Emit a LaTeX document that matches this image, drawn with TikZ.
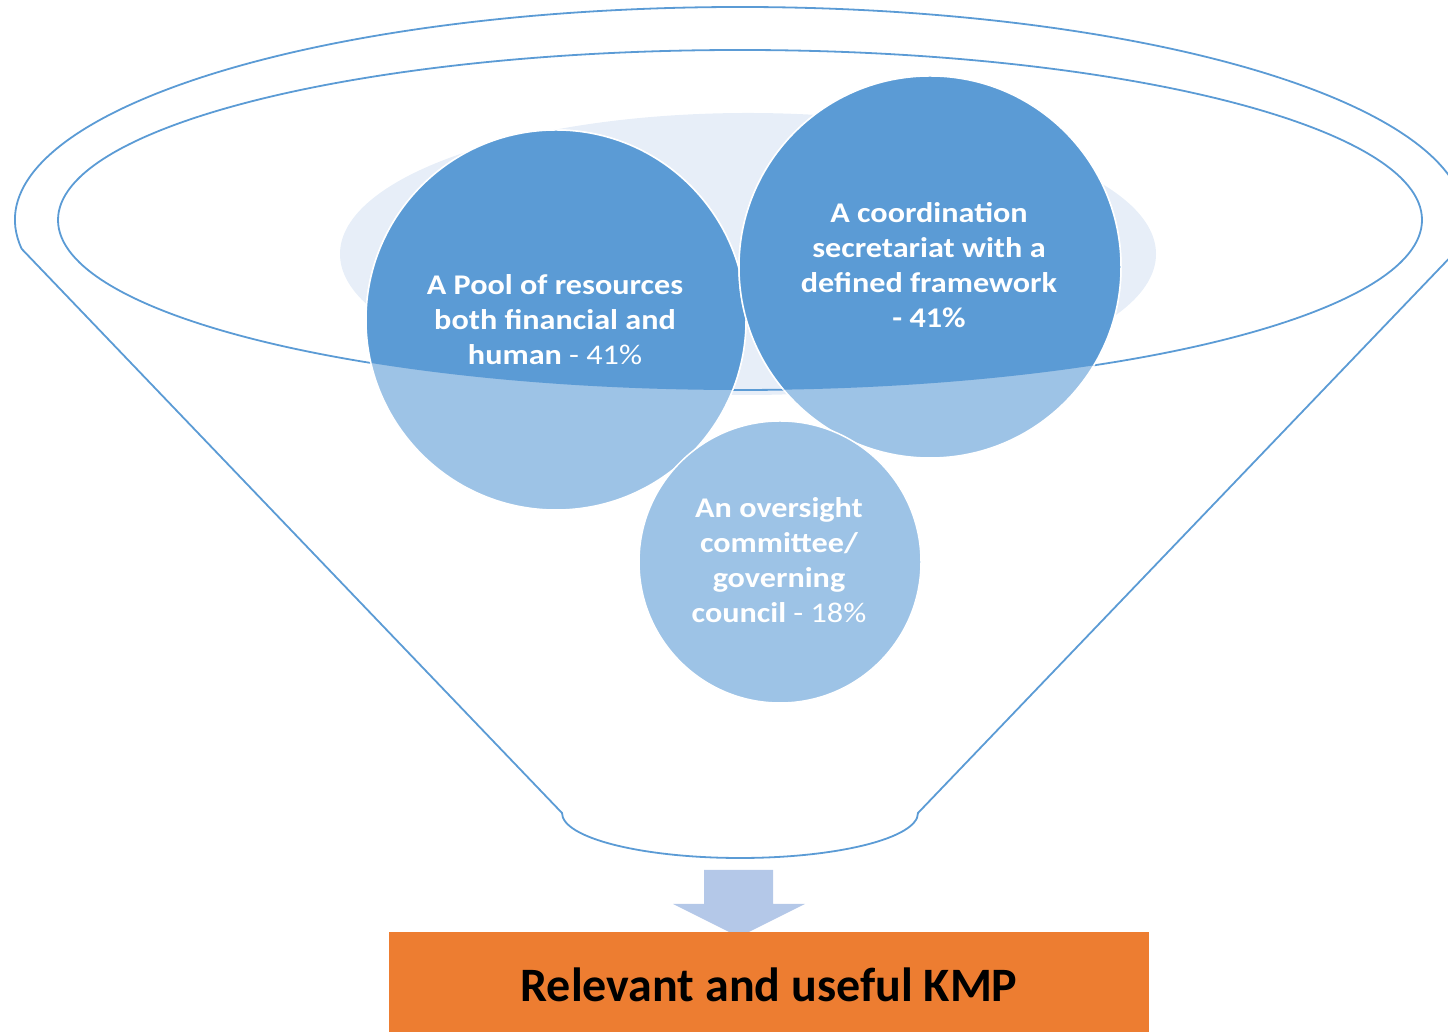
\documentclass[tikz,border=0pt]{standalone}
\usepackage{fontspec}
\setmainfont{Carlito}
\newfontfamily\widefont[FakeStretch=1.13]{Carlito}
\definecolor{lineblue}{HTML}{5B9BD5}
\definecolor{darkblue}{HTML}{5B9BD5}
\definecolor{lightblue}{HTML}{9DC3E6}
\definecolor{bgblue}{HTML}{E7EEF8}
\definecolor{arrowblue}{HTML}{B4C8E8}
\definecolor{orangebox}{HTML}{ED7D31}
\tikzset{
  funnel/.style={draw=lineblue, line width=1.8pt},
  bubble/.style={circle, fill=lightblue, draw=white, line width=1.5pt, inner sep=0pt},
  bubbletext/.style={text=white, align=center, font=\widefont\bfseries\fontsize{28.5}{35}\selectfont},
  rim/.style={draw=white, line width=1.5pt},
}
\begin{document}
\begin{tikzpicture}[x=1pt,y=1pt]
\useasboundingbox (0,0) rectangle (1448,1032);
\clip (0,0) rectangle (1448,1032);
% background ellipse
\fill[bgblue] (748,778) ellipse [x radius=408pt, y radius=141pt];
% funnel outline
\draw[funnel] (21.7,783.1) arc[start angle=187.8, end angle=-7.8, x radius=725pt, y radius=213pt]
  -- (918,219) arc[start angle=0, end angle=-180, x radius=178pt, y radius=45pt] -- cycle;
\draw[funnel] (740,812) ellipse [x radius=682pt, y radius=170pt];
% circle 1
\node[bubble, minimum size=380pt] (c1) at (556,712) {};
\begin{scope}
  \clip (740,812) ellipse [x radius=682pt, y radius=170pt];
  \fill[darkblue] (c1.center) circle [radius=190pt];
  \draw[rim] (c1.center) circle [radius=190pt];
\end{scope}
% circle 2
\node[bubble, minimum size=382pt] (c2) at (930,765) {};
\begin{scope}
  \clip (740,812) ellipse [x radius=682pt, y radius=170pt];
  \fill[darkblue] (c2.center) circle [radius=191pt];
  \draw[rim] (c2.center) circle [radius=191pt];
\end{scope}
% circle 3
\node[bubble, minimum size=282pt] (c3) at (780,470) {};
% texts
\node[bubbletext] (t1) at (555,712) {A Pool of resources\\both financial and\\human {\mdseries - 41\%}};
\node[bubbletext] (t2) at (929,767) {A coordination\\secretariat with a\\defined framework\\- 41\%};
\node[bubbletext] (t3) at (779,472) {An oversight\\committee/\\governing\\council {\mdseries - 18\%}};
% arrow
\fill[arrowblue] (704,162) -- (773,162) -- (773,128) -- (805,128) -- (739,95) -- (673,128) -- (704,128) -- cycle;
% result box
\node[fill=orangebox, minimum width=760pt, minimum height=100pt, inner sep=0pt, anchor=south west] (box) at (389,0) {};
\node[font=\bfseries\fontsize{48}{56}\selectfont, text=black] (result) at (769,47) {Relevant and useful KMP};
\end{tikzpicture}
\end{document}
